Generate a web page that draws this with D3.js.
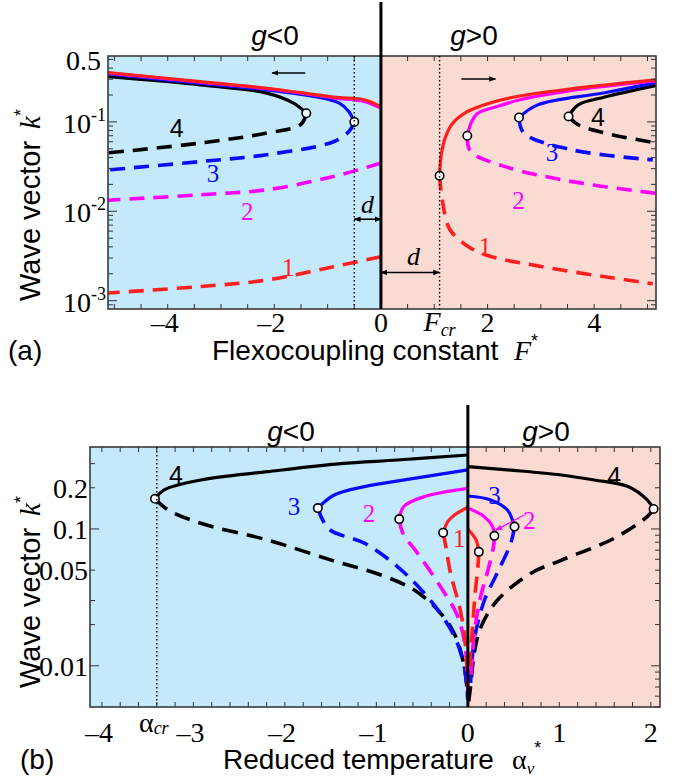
<!DOCTYPE html>
<html>
<head>
<meta charset="utf-8">
<script src="https://cdn.jsdelivr.net/npm/d3@7"></script>
<style>
  body { margin: 0; background: #fff; }
  svg { display: block; }
</style>
</head>
<body>
<div id="chart"></div>
<script>
// ---- data: panel (a), k* vs F*  (branches start at the turning point or at F*=0)
const aLeftRedUp   = [[0, 0.148], [-0.3, 0.176], [-0.89, 0.19], [-2.14, 0.238], [-3.39, 0.282], [-5.12, 0.356]];
const aLeftRedLow  = [[0, 0.0031], [-0.89, 0.0024], [-2.14, 0.0017], [-3.39, 0.00144], [-5.12, 0.00122]];
const aLeftMagUp   = [[0, 0.142], [-0.3, 0.168], [-0.89, 0.186], [-2.14, 0.235], [-3.39, 0.279], [-5.12, 0.352]];
const aLeftMagLow  = [[0, 0.0346], [-0.89, 0.0245], [-2.14, 0.0174], [-3.39, 0.0153], [-5.12, 0.0133]];
const aLeftBlueUp  = [[-0.5, 0.1], [-0.6, 0.13], [-0.78, 0.162], [-1.2, 0.19], [-2.14, 0.228], [-3.39, 0.27], [-5.12, 0.344]];
const aLeftBlueLow = [[-0.5, 0.1], [-0.6, 0.078], [-0.89, 0.06], [-2.14, 0.043], [-3.39, 0.036], [-5.12, 0.029]];
const aLeftBlkUp   = [[-1.4, 0.125], [-1.64, 0.162], [-2.14, 0.21], [-3.39, 0.26], [-5.12, 0.32]];
const aLeftBlkLow  = [[-1.4, 0.125], [-1.5, 0.094], [-2.14, 0.075], [-3.39, 0.058], [-5.12, 0.045]];

const aRightRedUp   = [[1.1, 0.025], [1.13, 0.042], [1.2, 0.065], [1.35, 0.097], [1.62, 0.13], [2.0, 0.16], [2.5, 0.19], [3.5, 0.232], [5.16, 0.295]];
const aRightRedLow  = [[1.1, 0.025], [1.15, 0.0135], [1.29, 0.0063], [1.62, 0.0041], [2.0, 0.0032], [2.94, 0.00245], [4.2, 0.00185], [5.1, 0.00155]];
const aRightMagUp   = [[1.62, 0.07], [1.7, 0.1], [1.81, 0.124], [2.2, 0.15], [2.63, 0.178], [3.56, 0.224], [5.16, 0.287]];
const aRightMagLow  = [[1.62, 0.07], [1.68, 0.047], [2.3, 0.032], [3.56, 0.0216], [5.16, 0.0159]];
const aRightBlueUp  = [[2.59, 0.112], [2.94, 0.155], [4.2, 0.212], [5.16, 0.275]];
const aRightBlueLow = [[2.59, 0.112], [2.68, 0.075], [3.56, 0.049], [5.1, 0.0376]];
const aRightBlkUp   = [[3.52, 0.115], [3.7, 0.155], [4.2, 0.19], [5.16, 0.255]];
const aRightBlkLow  = [[3.52, 0.115], [3.7, 0.093], [4.2, 0.075], [5.1, 0.059]];

const aTurns = [[-0.5, 0.1], [-1.4, 0.125], [1.1, 0.025], [1.62, 0.07], [2.59, 0.112], [3.52, 0.115]];

// ---- data: panel (b), k* vs alpha_v*
const bLeftBlkUp   = [[-3.42, 0.166], [-3.32, 0.193], [-2.92, 0.228], [-2.19, 0.262], [-1.39, 0.30], [-0.77, 0.319], [0, 0.347]];
const bLeftBlkLow  = [[-3.42, 0.166], [-3.28, 0.138], [-2.92, 0.11], [-2.19, 0.083], [-1.5, 0.0594], [-0.95, 0.0461], [-0.59, 0.0359], [-0.33, 0.0256], [-0.15, 0.0173], [-0.04, 0.0099], [0, 0.00565]];
const bLeftBlueUp  = [[-1.64, 0.142], [-1.46, 0.177], [-1.13, 0.204], [-0.59, 0.234], [0, 0.27]];
const bLeftBlueLow = [[-1.64, 0.142], [-1.52, 0.1], [-1.13, 0.0787], [-0.77, 0.0531], [-0.51, 0.0359], [-0.3, 0.0242], [-0.13, 0.0155], [-0.04, 0.0099], [0, 0.00565]];
const bLeftMagUp   = [[-0.75, 0.118], [-0.7, 0.146], [-0.48, 0.172], [0, 0.198]];
const bLeftMagLow  = [[-0.75, 0.118], [-0.71, 0.093], [-0.55, 0.0665], [-0.3, 0.0379], [-0.11, 0.0229], [-0.02, 0.0124], [0, 0.00565]];
const bLeftRedUp   = [[-0.27, 0.094], [-0.22, 0.113], [-0.15, 0.126], [0, 0.144]];
const bLeftRedLow  = [[-0.27, 0.094], [-0.24, 0.074], [-0.19, 0.0475], [-0.09, 0.0268], [-0.04, 0.0173], [0, 0.0075]];

const bRightBlkUp   = [[2.03, 0.14], [1.96, 0.163], [1.75, 0.204], [1.38, 0.228], [1.02, 0.248], [0.5, 0.268], [0, 0.285]];
const bRightBlkLow  = [[2.03, 0.14], [1.96, 0.123], [1.6, 0.0855], [1.02, 0.059], [0.69, 0.0475], [0.32, 0.03], [0.14, 0.019], [0.07, 0.0124], [0.03, 0.0071], [0.01, 0.0055]];
const bRightBlueUp  = [[0.51, 0.104], [0.43, 0.138], [0.25, 0.163], [0, 0.174]];
const bRightBlueLow = [[0.51, 0.104], [0.47, 0.079], [0.32, 0.0475], [0.18, 0.03], [0.07, 0.0155], [0.03, 0.0075]];
const bRightMagUp   = [[0.29, 0.089], [0.27, 0.104], [0.18, 0.123], [0, 0.142]];
const bRightMagLow  = [[0.29, 0.089], [0.28, 0.074], [0.22, 0.05], [0.14, 0.032], [0.07, 0.0173], [0.03, 0.0075]];
const bRightRedUp   = [[0.12, 0.068], [0.09, 0.083], [0, 0.1]];
const bRightRedLow  = [[0.12, 0.068], [0.11, 0.053], [0.08, 0.034], [0.05, 0.019], [0.02, 0.0099]];

const bTurns = [[-3.42, 0.166], [-1.64, 0.142], [-0.75, 0.118], [-0.27, 0.094], [0.12, 0.068], [0.29, 0.089], [0.51, 0.104], [2.03, 0.14]];

// curve labels (data coordinates)
const aLabels = [["4", -3.83, 0.0857, "black"], ["3", -3.15, 0.0269, "blue"], ["2", -2.51, 0.0100, "magenta"], ["1", -1.74, 0.00237, "red"],
                 ["4", 4.07, 0.114, "black"], ["3", 3.21, 0.046, "blue"], ["2", 2.58, 0.0134, "magenta"], ["1", 1.95, 0.0041, "red"]];
const bLabels = [["4", -3.19, 0.248, "black"], ["3", -1.90, 0.146, "blue"], ["2", -1.08, 0.130, "magenta"], ["1", -0.095, 0.0855, "red"],
                 ["3", 0.29, 0.177, "blue"], ["2", 0.67, 0.116, "magenta"], ["4", 1.60, 0.241, "black"]];

// ticks
const aXLabels = [-4, -2, 0, 2, 4];
const aYMajor = [0.001, 0.01, 0.1];
const bXLabels = [-4, -3, -2, -1, 0, 1, 2];
const bYLabels = [0.2, 0.1, 0.05, 0.01];
const bYLeftTicks = [0.3, 0.2, 0.1, 0.05, 0.03, 0.02, 0.01];
const Fcr = 1.1, dLeft = -0.5, alphaCr = -3.4;

// ---- drawing
const W = 675, H = 782;
const col = { red: "#ff1f1f", magenta: "#ff00ff", blue: "#0a0aff", black: "#000" };
const bgBlue = "#c4e9fb", bgPink = "#fadbd3";
const serif = "'Liberation Serif', 'Times New Roman', serif";
const sans = "'Liberation Sans', Arial, sans-serif";
const tickFont = "28px", titleFont = "28px";

const svg = d3.select("#chart").append("svg")
    .attr("width", W).attr("height", H)
    .style("font-family", sans);

const defs = svg.append("defs");
function marker(id, color) {
    defs.append("marker").attr("id", id)
        .attr("viewBox", "0 0 10 10").attr("refX", 9).attr("refY", 5)
        .attr("markerWidth", 7).attr("markerHeight", 7).attr("orient", "auto-start-reverse")
        .attr("markerUnits", "userSpaceOnUse")
        .append("path").attr("d", "M0,1 L10,5 L0,9 z").attr("fill", color);
}
marker("arrK", "#000");
marker("arrM", col.magenta);

function panel(id, x, y, dashes) {
    const g = svg.append("g");
    const [x0, x1] = x.range(), [y1, y0] = y.range();
    defs.append("clipPath").attr("id", id).append("rect")
        .attr("x", x0).attr("y", y0).attr("width", x1 - x0).attr("height", y1 - y0);
    g.append("rect").attr("x", x0).attr("y", y0).attr("width", x(0) - x0).attr("height", y1 - y0).attr("fill", bgBlue);
    g.append("rect").attr("x", x(0)).attr("y", y0).attr("width", x1 - x(0)).attr("height", y1 - y0).attr("fill", bgPink);
    const plot = g.append("g").attr("clip-path", `url(#${id})`);
    const line = d3.line().x(d => x(d[0])).y(d => y(d[1])).curve(d3.curveCatmullRom.alpha(0.5));
    return { g, plot, line, x0, x1, y0, y1, dashes };
}

function branch(p, data, color, dashed) {
    p.plot.append("path").attr("d", p.line(data))
        .attr("fill", "none").attr("stroke", col[color])
        .attr("stroke-width", dashed ? 3.6 : 3.2)
        .attr("stroke-dasharray", dashed ? p.dashes : null);
}

function frame(p, x, y, xTicks, yTicksL, yTicksR, majorY) {
    const g = p.g;
    const tl = 5;
    xTicks.forEach(v => {
        g.append("line").attr("x1", x(v)).attr("x2", x(v)).attr("y1", p.y1).attr("y2", p.y1 - tl).attr("stroke", "#333");
        g.append("line").attr("x1", x(v)).attr("x2", x(v)).attr("y1", p.y0).attr("y2", p.y0 + tl).attr("stroke", "#333");
    });
    yTicksL.forEach(v => {
        const len = majorY.includes(v) ? 9 : tl;
        g.append("line").attr("x1", p.x0).attr("x2", p.x0 + len).attr("y1", y(v)).attr("y2", y(v)).attr("stroke", "#333");
    });
    yTicksR.forEach(v => {
        const len = majorY.includes(v) ? 9 : tl;
        g.append("line").attr("x1", p.x1).attr("x2", p.x1 - len).attr("y1", y(v)).attr("y2", y(v)).attr("stroke", "#333");
    });
    g.append("rect").attr("x", p.x0).attr("y", p.y0).attr("width", p.x1 - p.x0).attr("height", p.y1 - p.y0)
        .attr("fill", "none").attr("stroke", "#3a3a3a").attr("stroke-width", 1.6);
}

function circles(p, x, y, pts) {
    p.g.selectAll(null).data(pts).enter().append("circle")
        .attr("cx", d => x(d[0])).attr("cy", d => y(d[1])).attr("r", 4.2)
        .attr("fill", "#fff").attr("stroke", "#000").attr("stroke-width", 1.6);
}

function vdotted(p, xv, x) {
    p.g.append("line").attr("x1", x(xv)).attr("x2", x(xv)).attr("y1", p.y0).attr("y2", p.y1)
        .attr("stroke", "#000").attr("stroke-width", 1.4).attr("stroke-dasharray", "1.4,2.6");
}

function curveLabels(p, x, y, labels) {
    labels.forEach(([t, xv, yv, c]) => {
        p.g.append("text").attr("x", x(xv)).attr("y", y(yv)).attr("dy", "0.35em")
            .attr("text-anchor", "middle").attr("fill", col[c])
            .style("font-family", t === "4" ? sans : serif).style("font-size", "25px").text(t);
    });
}

function gTitle(cx, cy, sign) {
    const t = svg.append("text").attr("x", cx).attr("y", cy).attr("text-anchor", "middle").style("font-size", "28px");
    t.append("tspan").style("font-style", "italic").text("g");
    t.append("tspan").text(sign + "0");
}

function yTitle(cx, cy) {
    const t = svg.append("text").attr("transform", `translate(${cx},${cy}) rotate(-90)`)
        .attr("text-anchor", "middle").style("font-size", "29px");
    t.append("tspan").text("Wave vector");
    t.append("tspan").attr("dx", 12).style("font-family", serif).style("font-style", "italic").text("k");
    t.append("tspan").attr("dy", -13).style("font-size", "18px").text("*");
}

// ---------- panel (a)
const aX = d3.scaleLinear().domain([-5.12, 5.16]).range([108, 656]);
const aY = d3.scaleLog().domain([8.07e-4, 0.546]).range([309, 56]);
const pa = panel("clipA", aX, aY, "15,9");

[[aLeftRedLow, "red"], [aLeftMagLow, "magenta"], [aLeftBlueLow, "blue"], [aLeftBlkLow, "black"],
 [aRightRedLow, "red"], [aRightMagLow, "magenta"], [aRightBlueLow, "blue"], [aRightBlkLow, "black"]]
    .forEach(([d, c]) => branch(pa, d, c, true));
[[aLeftBlkUp, "black"], [aLeftBlueUp, "blue"], [aLeftMagUp, "magenta"], [aLeftRedUp, "red"],
 [aRightBlkUp, "black"], [aRightBlueUp, "blue"], [aRightMagUp, "magenta"], [aRightRedUp, "red"]]
    .forEach(([d, c]) => branch(pa, d, c, false));

frame(pa, aX, aY, d3.range(-5, 5.01, 0.5), aY.ticks(), aY.ticks(), aYMajor);
circles(pa, aX, aY, aTurns);
vdotted(pa, dLeft, aX);
vdotted(pa, Fcr, aX);
curveLabels(pa, aX, aY, aLabels);

// arrows and d markers
pa.g.append("line").attr("x1", aX(-1.42)).attr("x2", aX(-2.04)).attr("y1", aY(0.353)).attr("y2", aY(0.353))
    .attr("stroke", "#000").attr("stroke-width", 1.6).attr("marker-end", "url(#arrK)");
pa.g.append("line").attr("x1", aX(1.51)).attr("x2", aX(2.15)).attr("y1", aY(0.302)).attr("y2", aY(0.302))
    .attr("stroke", "#000").attr("stroke-width", 1.6).attr("marker-end", "url(#arrK)");
pa.g.append("line").attr("x1", aX(dLeft)).attr("x2", aX(0)).attr("y1", aY(0.00815)).attr("y2", aY(0.00815))
    .attr("stroke", "#000").attr("stroke-width", 1.6).attr("marker-start", "url(#arrK)").attr("marker-end", "url(#arrK)");
pa.g.append("line").attr("x1", aX(0)).attr("x2", aX(Fcr)).attr("y1", aY(0.00207)).attr("y2", aY(0.00207))
    .attr("stroke", "#000").attr("stroke-width", 1.6).attr("marker-start", "url(#arrK)").attr("marker-end", "url(#arrK)");
[[-0.25, 0.012], [0.61, 0.00318]].forEach(([f, k]) => {
    pa.g.append("text").attr("x", aX(f)).attr("y", aY(k)).attr("dy", "0.35em").attr("text-anchor", "middle")
        .style("font-family", serif).style("font-style", "italic").style("font-size", "26px").text("d");
});

// zero line
pa.g.append("line").attr("x1", aX(0)).attr("x2", aX(0)).attr("y1", 2).attr("y2", pa.y1)
    .attr("stroke", "#000").attr("stroke-width", 3);

// tick labels
aXLabels.forEach(v => {
    pa.g.append("text").attr("x", aX(v) + (v < 0 ? -3 : 0)).attr("y", 332).attr("text-anchor", "middle")
        .style("font-family", serif).style("font-size", tickFont).text(v < 0 ? "\u2013" + (-v) : v);
});
const fcrT = pa.g.append("text").attr("x", aX(Fcr)).attr("y", 331).attr("text-anchor", "middle")
    .style("font-family", serif).style("font-size", tickFont);
fcrT.append("tspan").style("font-style", "italic").text("F");
fcrT.append("tspan").attr("dy", 5).style("font-size", "18px").style("font-style", "italic").text("cr");

pa.g.append("text").attr("x", 101).attr("y", aY(0.5)).attr("dy", "0.38em").attr("text-anchor", "end")
    .style("font-family", serif).style("font-size", tickFont).text("0.5");
aYMajor.forEach(v => {
    const t = pa.g.append("text").attr("x", 106).attr("y", aY(v)).attr("dy", "0.4em").attr("text-anchor", "end")
        .style("font-family", serif).style("font-size", tickFont);
    t.append("tspan").text("10");
    t.append("tspan").attr("dy", -12).style("font-size", "18px").text("-" + Math.round(-Math.log10(v)));
});

// titles
gTitle(275, 45, "<");
gTitle(474, 45, ">");
yTitle(40, 205);

svg.append("text").attr("x", 8).attr("y", 360).style("font-size", titleFont).text("(a)");
svg.append("text").attr("x", 212).attr("y", 360).style("font-size", titleFont).text("Flexocoupling constant");
const fStar = svg.append("text").attr("x", 514).attr("y", 360).style("font-size", titleFont);
fStar.append("tspan").style("font-family", serif).style("font-style", "italic").text("F");
fStar.append("tspan").attr("dy", -13).style("font-size", "18px").text("*");

// ---------- panel (b)
const bX = d3.scaleLinear().domain([-4.13, 2.1]).range([90, 660]);
const bY = d3.scaleLog().domain([0.005, 0.397]).range([707, 447]);
const pb = panel("clipB", bX, bY, "16,9");

[[bLeftBlkLow, "black"], [bLeftBlueLow, "blue"], [bLeftMagLow, "magenta"], [bLeftRedLow, "red"],
 [bRightBlkLow, "black"], [bRightBlueLow, "blue"], [bRightMagLow, "magenta"], [bRightRedLow, "red"]]
    .forEach(([d, c]) => branch(pb, d, c, true));
[[bLeftBlkUp, "black"], [bLeftBlueUp, "blue"], [bLeftMagUp, "magenta"], [bLeftRedUp, "red"],
 [bRightBlkUp, "black"], [bRightBlueUp, "blue"], [bRightMagUp, "magenta"], [bRightRedUp, "red"]]
    .forEach(([d, c]) => branch(pb, d, c, false));

frame(pb, bX, bY, d3.range(-4, 2.01, 0.2).map(v => +v.toFixed(1)), bYLeftTicks, bY.ticks().filter(v => v <= 0.3), [0.1, 0.01]);
circles(pb, bX, bY, bTurns);
vdotted(pb, alphaCr, bX);
curveLabels(pb, bX, bY, bLabels);

pb.g.append("line").attr("x1", bX(0.61)).attr("x2", bX(0.306)).attr("y1", bY(0.126)).attr("y2", bY(0.098))
    .attr("stroke", col.magenta).attr("stroke-width", 1.3).attr("marker-end", "url(#arrM)");

pb.g.append("line").attr("x1", bX(0)).attr("x2", bX(0)).attr("y1", 405).attr("y2", pb.y1)
    .attr("stroke", "#000").attr("stroke-width", 3);

bXLabels.forEach(v => {
    pb.g.append("text").attr("x", bX(v) + (v < 0 ? -3 : 0)).attr("y", 742).attr("text-anchor", "middle")
        .style("font-family", serif).style("font-size", tickFont).text(v < 0 ? "\u2013" + (-v) : v);
});
const acrT = pb.g.append("text").attr("x", bX(alphaCr) - 3).attr("y", 732).attr("text-anchor", "middle")
    .style("font-family", serif).style("font-size", tickFont);
acrT.append("tspan").text("\u03b1");
acrT.append("tspan").attr("dy", 2).style("font-size", "18px").style("font-style", "italic").text("cr");

bYLabels.forEach(v => {
    pb.g.append("text").attr("x", 88).attr("y", bY(v)).attr("dy", "0.36em").attr("text-anchor", "end")
        .style("font-family", serif).style("font-size", tickFont).text(v);
});

gTitle(291, 441, "<");
gTitle(546, 441, ">");
yTitle(40, 592);

svg.append("text").attr("x", 20).attr("y", 769).style("font-size", titleFont).text("(b)");
svg.append("text").attr("x", 223).attr("y", 769).style("font-size", titleFont).text("Reduced temperature");
const aStar = svg.append("text").attr("x", 512).attr("y", 769).style("font-size", titleFont);
aStar.append("tspan").style("font-family", serif).text("\u03b1");
aStar.append("tspan").attr("dy", 5).style("font-family", serif).style("font-style", "italic").style("font-size", "17px").text("v");
aStar.append("tspan").attr("dy", -20).style("font-size", "18px").text("*");
</script>
</body>
</html>
